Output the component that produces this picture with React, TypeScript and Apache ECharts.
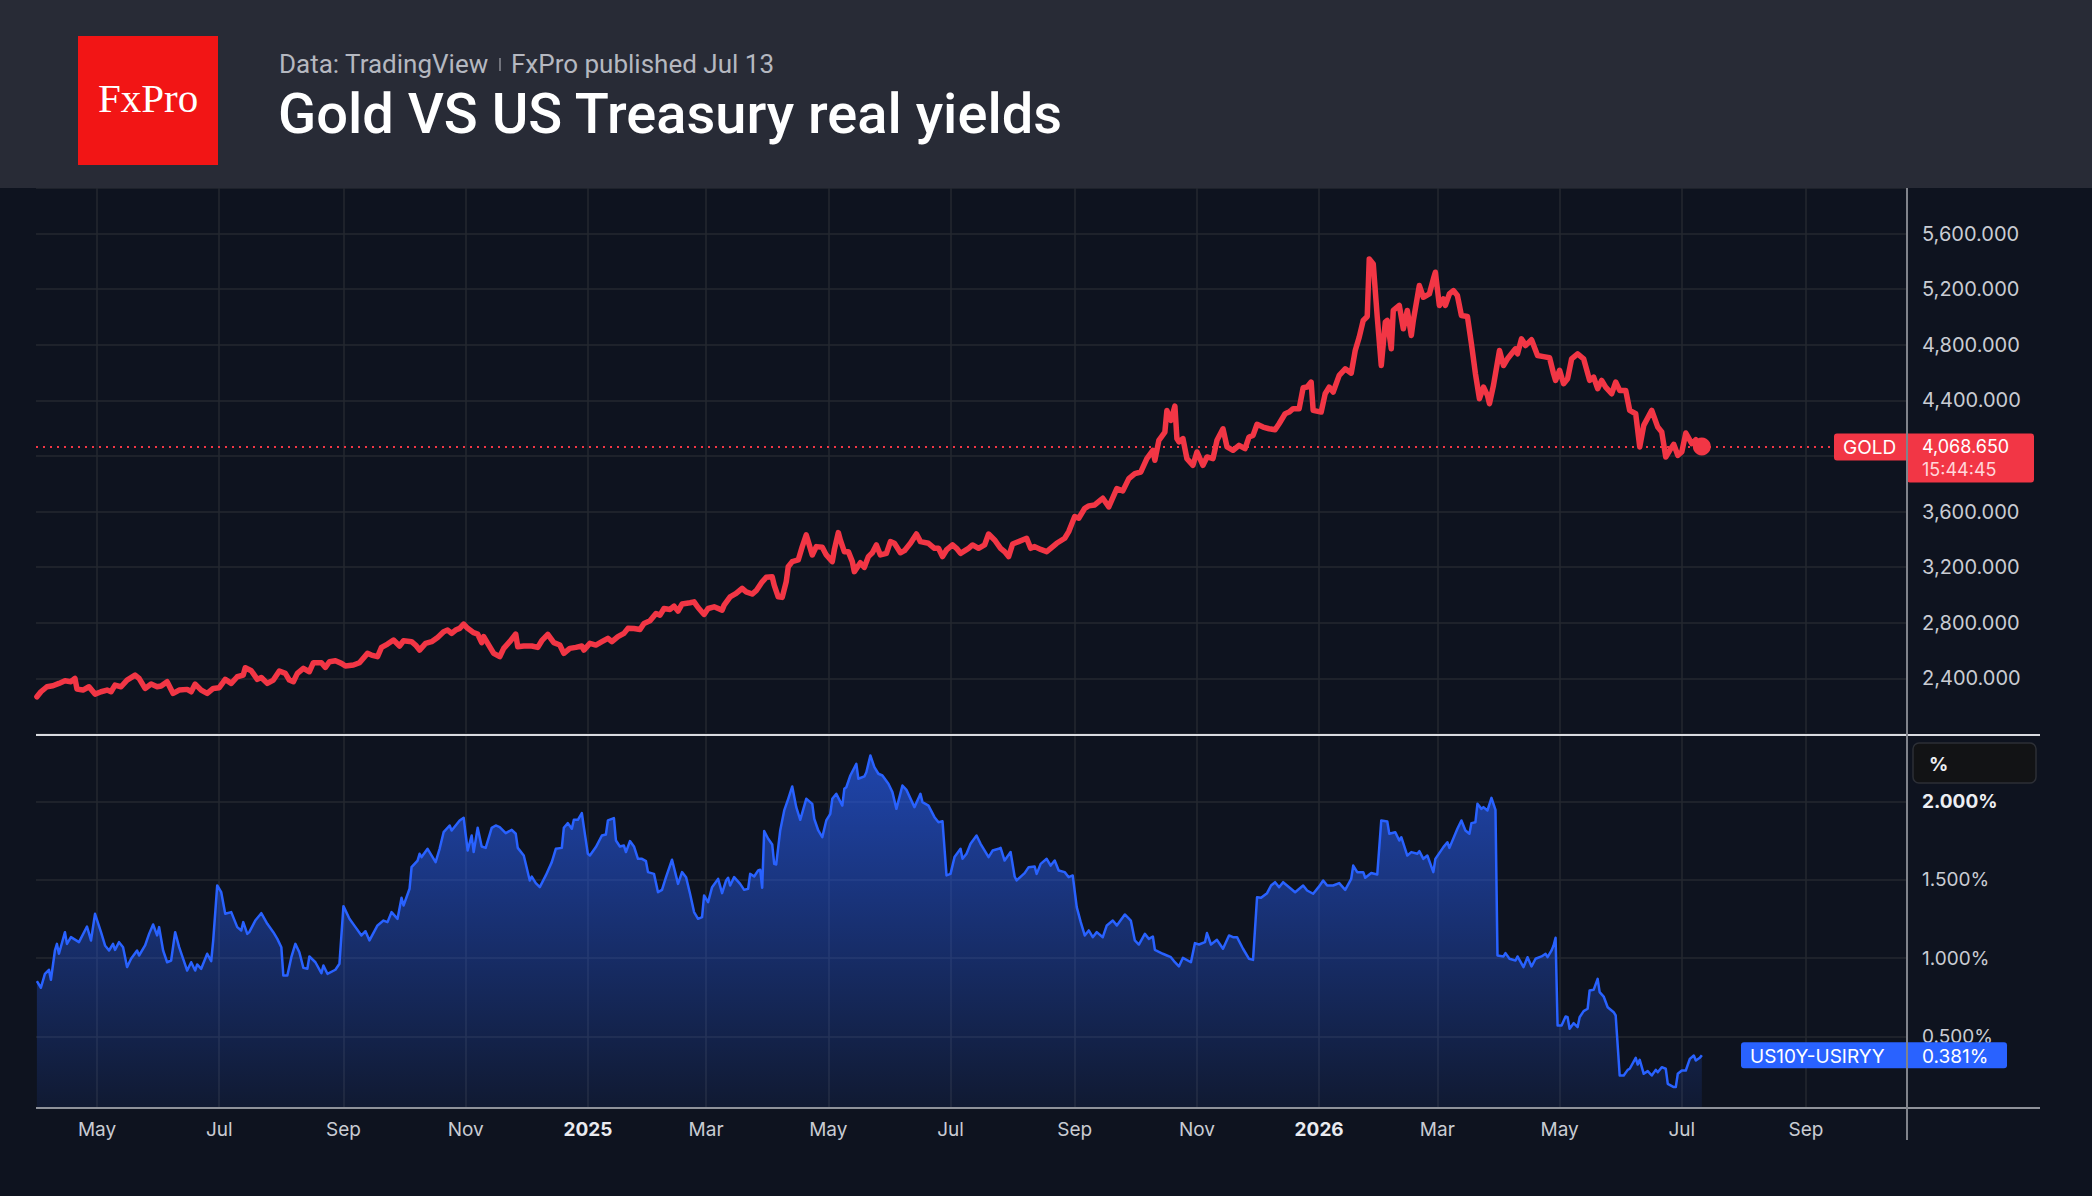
import React, { useEffect, useRef } from 'react';
import * as echarts from 'echarts';

// Daily closes, sampled; x = days since 2024-04-01
const START_DATE = Date.UTC(2024, 3, 1);
const DAY_MS = 86400000;

// Gold spot (USD / oz): [day, close]
const goldCloses: [number, number][] = [
  [0, 2268], [2, 2304], [5, 2340], [8, 2347], [11, 2364], [14, 2383], [17, 2376], [19, 2400], [20, 2323], [23, 2316],
  [26, 2340], [29, 2287], [32, 2304], [35, 2316], [37, 2304], [39, 2352], [42, 2340], [45, 2388], [49, 2424], [51, 2400],
  [54, 2328], [57, 2359], [60, 2340], [62, 2345], [65, 2376], [68, 2292], [71, 2316], [75, 2321], [77, 2304], [79, 2359],
  [82, 2316], [85, 2292], [88, 2328], [91, 2333], [94, 2393], [97, 2364], [100, 2412], [103, 2424], [104, 2477], [107, 2455],
  [110, 2393], [112, 2407], [115, 2364], [118, 2388], [121, 2453], [124, 2436], [126, 2388], [128, 2376], [130, 2436], [133, 2472],
  [136, 2448], [138, 2513], [142, 2513], [144, 2479], [146, 2520], [149, 2527], [152, 2508], [154, 2489], [158, 2496], [161, 2513],
  [165, 2580], [167, 2568], [170, 2556], [172, 2623], [175, 2647], [178, 2676], [181, 2633], [183, 2671], [187, 2664], [189, 2640],
  [191, 2604], [194, 2652], [197, 2664], [200, 2695], [203, 2736], [205, 2748], [207, 2724], [209, 2748], [211, 2760], [213, 2791],
  [215, 2760], [218, 2729], [220, 2719], [222, 2657], [223, 2700], [225, 2652], [228, 2580], [231, 2556], [233, 2616], [236, 2664],
  [239, 2719], [240, 2628], [243, 2633], [247, 2633], [250, 2623], [252, 2671], [255, 2717], [258, 2657], [261, 2640], [263, 2580],
  [266, 2616], [269, 2623], [272, 2633], [273, 2604], [276, 2652], [279, 2640], [282, 2664], [285, 2688], [287, 2664], [290, 2700],
  [293, 2724], [295, 2760], [298, 2759], [301, 2752], [303, 2795], [306, 2814], [309, 2867], [311, 2855], [313, 2903], [316, 2896],
  [318, 2920], [320, 2884], [322, 2935], [326, 2944], [328, 2951], [330, 2910], [333, 2860], [335, 2903], [338, 2915], [342, 2891],
  [343, 2927], [346, 2987], [349, 3011], [352, 3047], [354, 3023], [357, 3007], [359, 3031], [362, 3095], [364, 3127], [367, 3131],
  [368, 3071], [370, 2987], [372, 2983], [374, 3095], [375, 3203], [377, 3240], [380, 3252], [382, 3348], [384, 3432], [385, 3384],
  [387, 3288], [389, 3348], [392, 3343], [394, 3288], [397, 3240], [398, 3324], [400, 3449], [401, 3396], [403, 3312], [405, 3312],
  [407, 3240], [408, 3168], [411, 3232], [413, 3199], [415, 3276], [417, 3304], [419, 3360], [421, 3288], [424, 3300], [426, 3384],
  [428, 3372], [431, 3304], [433, 3319], [436, 3372], [439, 3439], [441, 3384], [445, 3372], [448, 3336], [450, 3336], [452, 3276],
  [454, 3324], [457, 3360], [459, 3336], [461, 3300], [465, 3336], [467, 3360], [470, 3336], [473, 3360], [475, 3439], [478, 3396],
  [481, 3336], [483, 3312], [485, 3276], [487, 3367], [490, 3384], [494, 3408], [496, 3336], [498, 3348], [501, 3328], [504, 3312],
  [506, 3336], [509, 3372], [513, 3408], [515, 3456], [518, 3564], [520, 3552], [523, 3624], [525, 3641], [528, 3648], [531, 3684],
  [532, 3696], [535, 3634], [539, 3765], [542, 3749], [545, 3837], [548, 3873], [551, 3885], [554, 3981], [557, 4041], [558, 3969],
  [560, 4113], [563, 4172], [564, 4328], [566, 4256], [568, 4359], [569, 4125], [570, 4101], [572, 4125], [574, 3981], [577, 3933],
  [579, 4029], [582, 3933], [584, 3993], [587, 3981], [589, 4113], [592, 4196], [594, 4065], [597, 4041], [600, 4077], [603, 4053],
  [605, 4137], [607, 4148], [609, 4228], [612, 4208], [615, 4196], [618, 4189], [620, 4232], [623, 4304], [625, 4316], [627, 4340],
  [630, 4340], [632, 4491], [634, 4496], [636, 4532], [637, 4328], [641, 4316], [643, 4448], [645, 4496], [647, 4460], [650, 4580],
  [653, 4627], [656, 4596], [658, 4759], [660, 4855], [662, 4975], [664, 5004], [665, 5418], [667, 5382], [669, 4999], [671, 4651],
  [673, 4963], [674, 4975], [676, 4771], [677, 5047], [680, 5083], [682, 4915], [684, 5047], [686, 4867], [687, 4975], [690, 5226],
  [692, 5142], [695, 5166], [697, 5274], [698, 5322], [700, 5083], [702, 5130], [703, 5083], [705, 5166], [707, 5190], [709, 5154],
  [711, 5011], [714, 5004], [716, 4807], [718, 4592], [720, 4412], [722, 4496], [724, 4436], [725, 4376], [727, 4508], [730, 4759],
  [732, 4651], [734, 4699], [738, 4771], [739, 4735], [741, 4843], [743, 4795], [746, 4836], [749, 4723], [752, 4715], [755, 4707],
  [757, 4592], [758, 4544], [760, 4616], [762, 4520], [764, 4556], [766, 4699], [769, 4735], [772, 4699], [775, 4544], [777, 4568],
  [779, 4484], [781, 4544], [783, 4496], [786, 4448], [788, 4532], [790, 4472], [793, 4472], [795, 4328], [798, 4304], [800, 4065],
  [802, 4220], [806, 4328], [809, 4208], [811, 4172], [813, 3993], [815, 4041], [817, 4084], [819, 4005], [821, 4029], [823, 4165],
  [826, 4089], [828, 4117], [831, 4068.65],
];

// US 10Y nominal yield minus US CPI YoY (%): [day, value]
const realYields: [number, number][] = [
  [0, 0.853], [2, 0.811], [4, 0.9], [6, 0.926], [7, 0.862], [9, 1.049], [10, 1.091], [11, 1.028], [14, 1.166], [15, 1.091],
  [17, 1.134], [21, 1.102], [25, 1.202], [27, 1.113], [29, 1.283], [32, 1.166], [34, 1.081], [36, 1.049], [38, 1.091], [39, 1.053],
  [41, 1.102], [43, 1.07], [45, 0.943], [47, 0.996], [50, 1.049], [51, 1.017], [54, 1.081], [56, 1.155], [58, 1.215], [60, 1.145],
  [61, 1.198], [63, 1.049], [65, 0.974], [67, 0.985], [69, 1.166], [71, 1.07], [75, 0.921], [77, 0.974], [79, 0.921], [80, 0.96],
  [82, 0.932], [85, 1.028], [87, 0.981], [88, 1.113], [90, 1.464], [92, 1.421], [94, 1.283], [97, 1.294], [100, 1.198], [102, 1.177],
  [103, 1.23], [105, 1.155], [106, 1.166], [109, 1.24], [112, 1.287], [115, 1.219], [118, 1.166], [120, 1.123], [122, 1.07], [123, 0.889],
  [125, 0.889], [127, 1.006], [129, 1.091], [131, 1.038], [133, 0.938], [135, 0.932], [136, 1.011], [139, 0.974], [142, 0.904], [143, 0.953],
  [145, 0.9], [149, 0.926], [151, 0.964], [153, 1.332], [156, 1.251], [159, 1.198], [162, 1.145], [164, 1.172], [166, 1.113], [170, 1.209],
  [173, 1.24], [175, 1.23], [177, 1.294], [180, 1.251], [182, 1.385], [183, 1.336], [186, 1.443], [187, 1.581], [190, 1.623], [191, 1.666],
  [192, 1.645], [195, 1.698], [199, 1.613], [201, 1.698], [203, 1.804], [206, 1.847], [207, 1.815], [211, 1.879], [213, 1.896], [215, 1.687],
  [217, 1.783], [218, 1.677], [220, 1.832], [222, 1.713], [224, 1.704], [227, 1.832], [229, 1.847], [231, 1.836], [234, 1.798], [237, 1.819],
  [239, 1.794], [240, 1.704], [243, 1.655], [246, 1.496], [247, 1.521], [249, 1.479], [251, 1.453], [254, 1.528], [257, 1.613], [259, 1.698],
  [262, 1.704], [263, 1.832], [265, 1.862], [267, 1.826], [268, 1.883], [270, 1.883], [272, 1.926], [273, 1.836], [275, 1.666], [276, 1.655],
  [279, 1.709], [282, 1.783], [284, 1.789], [285, 1.879], [288, 1.894], [289, 1.751], [291, 1.713], [293, 1.719], [294, 1.677], [296, 1.747],
  [298, 1.713], [300, 1.634], [302, 1.634], [304, 1.619], [305, 1.549], [308, 1.538], [310, 1.421], [312, 1.436], [314, 1.517], [317, 1.628],
  [320, 1.474], [322, 1.549], [324, 1.517], [326, 1.411], [328, 1.294], [330, 1.251], [332, 1.262], [333, 1.4], [335, 1.357], [337, 1.453],
  [340, 1.506], [342, 1.415], [344, 1.496], [345, 1.513], [346, 1.464], [348, 1.517], [351, 1.474], [353, 1.436], [355, 1.443], [356, 1.538],
  [358, 1.521], [360, 1.56], [361, 1.564], [362, 1.449], [363, 1.811], [365, 1.762], [367, 1.726], [368, 1.602], [369, 1.598], [371, 1.815],
  [373, 1.943], [375, 2.017], [377, 2.096], [379, 1.964], [381, 1.883], [384, 2.017], [387, 1.985], [388, 1.889], [390, 1.815], [392, 1.772],
  [394, 1.879], [396, 1.921], [397, 2.017], [399, 2.049], [402, 1.974], [403, 2.081], [404, 2.091], [406, 2.166], [409, 2.24], [410, 2.145],
  [413, 2.16], [414, 2.187], [416, 2.294], [418, 2.219], [420, 2.177], [422, 2.166], [425, 2.113], [427, 2.06], [429, 1.953], [432, 2.102],
  [434, 2.074], [438, 1.964], [441, 2.049], [442, 1.996], [445, 1.974], [448, 1.9], [450, 1.868], [452, 1.874], [454, 1.528], [456, 1.538],
  [458, 1.645], [461, 1.698], [462, 1.634], [464, 1.666], [466, 1.73], [469, 1.783], [471, 1.73], [475, 1.645], [477, 1.687], [480, 1.698],
  [481, 1.704], [483, 1.623], [486, 1.677], [488, 1.521], [489, 1.496], [493, 1.543], [495, 1.581], [498, 1.585], [499, 1.538], [501, 1.602],
  [504, 1.634], [506, 1.591], [508, 1.623], [510, 1.56], [513, 1.549], [515, 1.517], [517, 1.528], [519, 1.326], [521, 1.23], [523, 1.145],
  [525, 1.177], [527, 1.134], [529, 1.166], [532, 1.134], [534, 1.209], [537, 1.24], [539, 1.209], [543, 1.279], [546, 1.24], [548, 1.113],
  [550, 1.087], [553, 1.155], [555, 1.123], [557, 1.138], [558, 1.053], [562, 1.028], [564, 1.017], [566, 1.006], [568, 0.974], [570, 0.947],
  [572, 1.002], [576, 0.974], [578, 1.096], [580, 1.087], [583, 1.102], [584, 1.16], [586, 1.087], [589, 1.117], [592, 1.06], [595, 1.145],
  [597, 1.134], [599, 1.134], [602, 1.06], [605, 0.996], [607, 0.989], [609, 1.389], [611, 1.385], [614, 1.415], [616, 1.464], [618, 1.485],
  [620, 1.453], [622, 1.485], [625, 1.453], [628, 1.421], [632, 1.464], [634, 1.432], [637, 1.411], [640, 1.458], [642, 1.496], [644, 1.464],
  [647, 1.464], [650, 1.479], [653, 1.436], [656, 1.506], [657, 1.591], [659, 1.549], [662, 1.549], [663, 1.513], [666, 1.543], [669, 1.534],
  [671, 1.879], [674, 1.872], [675, 1.794], [678, 1.804], [680, 1.751], [681, 1.772], [684, 1.655], [686, 1.677], [689, 1.666], [690, 1.683],
  [692, 1.634], [694, 1.655], [697, 1.549], [698, 1.634], [702, 1.709], [704, 1.74], [705, 1.704], [709, 1.826], [711, 1.879], [713, 1.815],
  [715, 1.794], [716, 1.862], [718, 1.868], [719, 1.985], [721, 1.953], [722, 1.964], [724, 1.943], [726, 2.023], [728, 1.947], [729, 1.017],
  [732, 1.011], [733, 1.032], [735, 0.996], [738, 0.985], [739, 1.011], [742, 0.943], [744, 1.006], [746, 0.947], [748, 0.996], [751, 1.011],
  [753, 1.028], [754, 1.006], [756, 1.049], [757, 1.081], [758, 1.13], [759, 0.57], [761, 0.57], [763, 0.628], [764, 0.623], [765, 0.549],
  [767, 0.585], [769, 0.56], [770, 0.623], [772, 0.662], [774, 0.677], [775, 0.794], [777, 0.798], [779, 0.868], [780, 0.783], [782, 0.755],
  [784, 0.687], [787, 0.655], [788, 0.634], [790, 0.251], [792, 0.251], [794, 0.287], [795, 0.294], [798, 0.364], [799, 0.321], [800, 0.351],
  [802, 0.262], [804, 0.279], [806, 0.251], [808, 0.287], [809, 0.272], [811, 0.304], [813, 0.294], [814, 0.198], [817, 0.177], [818, 0.177],
  [819, 0.262], [821, 0.283], [823, 0.283], [825, 0.357], [827, 0.379], [828, 0.347], [830, 0.364], [831, 0.381],
];

// Time-axis labels / vertical grid (every second month)
const monthTicks = [
  '2024-05-01', '2024-07-01', '2024-09-01', '2024-11-01', '2025-01-01', '2025-03-01', '2025-05-01', '2025-07-01',
  '2025-09-01', '2025-11-01', '2026-01-01', '2026-03-01', '2026-05-01', '2026-07-01', '2026-09-01',
];
const MONTH_NAMES = ['Jan', 'Feb', 'Mar', 'Apr', 'May', 'Jun', 'Jul', 'Aug', 'Sep', 'Oct', 'Nov', 'Dec'];

// Price-scale ticks
const goldTickStep = 400;
const yieldTicks = [0.5, 1, 1.5, 2];

const GOLD_SYMBOL = 'GOLD';
const YIELD_SYMBOL = 'US10Y-USIRYY';
const BAR_COUNTDOWN = '15:44:45';

// Visible ranges (x in epoch milliseconds)
const X_MIN = START_DATE - 0.45 * DAY_MS;
const X_MAX = START_DATE + 933.4 * DAY_MS;
const GOLD_MIN = 2000;
const GOLD_MAX = 5928;
const YIELD_MIN = 0.0436;
const YIELD_MAX = 2.418;

// Layout
const W = 2092;
const H = 1196;
const HEADER_H = 188;
const PLOT_LEFT = 36;
const SCALE_X = 1907;
const RIGHT_EDGE = 2040;
const TOP_PANE = { top: 188, height: 546 };
const BOTTOM_PANE = { top: 736, height: 372 };

const BG = '#0e131f';
const GRID = '#252830';
const RED = '#f23645';
const BLUE = '#2962ff';
const LABEL = '#c9ccd3';
const FONT = 'Inter, Roboto, sans-serif';

const toTime = (d: number) => START_DATE + d * DAY_MS;
const tickTimes = monthTicks.map((s) => Date.parse(s + 'T00:00:00Z'));
const goldData = goldCloses.map(([d, v]) => [toTime(d), v]);
const yieldData = realYields.map(([d, v]) => [toTime(d), v]);
const lastGold = goldCloses[goldCloses.length - 1];
const lastYield = realYields[realYields.length - 1];

const fmtGold = (v: number) =>
  v.toLocaleString('en-US', { minimumFractionDigits: 3, maximumFractionDigits: 3 });
const fmtPct = (v: number) => v.toFixed(3) + '%';

// price-scale labels that sit under the last-price tag are not drawn
const underGoldTag = (v: number) => v > lastGold[1] - 345 && v < lastGold[1] + 180;

const gridMark = (extra: any[] = []) => ({
  silent: true,
  symbol: ['none', 'none'],
  z: 1,
  label: { show: false },
  emphasis: { disabled: true },
  lineStyle: { color: GRID, width: 1.5, type: 'solid' },
  data: [...tickTimes.map((t) => ({ xAxis: t })), ...extra],
});

function buildOption(): any {
  return {
    animation: false,
    backgroundColor: BG,
    textStyle: { fontFamily: FONT },
    grid: [
      { left: PLOT_LEFT, top: TOP_PANE.top, width: SCALE_X - PLOT_LEFT, height: TOP_PANE.height },
      { left: PLOT_LEFT, top: BOTTOM_PANE.top, width: SCALE_X - PLOT_LEFT, height: BOTTOM_PANE.height },
    ],
    xAxis: [
      { type: 'value', gridIndex: 0, min: X_MIN, max: X_MAX, show: false },
      {
        type: 'value',
        gridIndex: 1,
        min: X_MIN,
        max: X_MAX,
        axisLine: { show: false },
        axisTick: { show: false },
        splitLine: { show: false },
        axisLabel: {
          customValues: tickTimes,
          margin: 12,
          color: LABEL,
          fontSize: 19,
          fontFamily: FONT,
          formatter: (v: number) => {
            const d = new Date(v);
            return d.getUTCMonth() === 0 ? `{yr|${d.getUTCFullYear()}}` : MONTH_NAMES[d.getUTCMonth()];
          },
          rich: { yr: { fontWeight: 'bold', color: '#e9ebf0', fontSize: 19, fontFamily: FONT } },
        },
      },
    ],
    yAxis: [
      {
        type: 'value',
        gridIndex: 0,
        position: 'right',
        min: GOLD_MIN,
        max: GOLD_MAX,
        interval: goldTickStep,
        axisLine: { show: false },
        axisTick: { show: false },
        splitLine: { show: true, lineStyle: { color: GRID, width: 1.5 } },
        axisLabel: {
          showMinLabel: false,
          showMaxLabel: false,
          margin: 15,
          color: LABEL,
          fontSize: 20,
          fontFamily: FONT,
          formatter: (v: number) => (underGoldTag(v) ? '' : fmtGold(v)),
        },
      },
      {
        type: 'value',
        gridIndex: 1,
        position: 'right',
        min: YIELD_MIN,
        max: YIELD_MAX,
        axisLine: { show: false },
        axisTick: { show: false },
        splitLine: { show: false },
        axisLabel: {
          customValues: yieldTicks,
          margin: 15,
          color: LABEL,
          fontSize: 19,
          fontFamily: FONT,
          formatter: (v: number) => (v === 2 ? `{b|${fmtPct(v)}}` : fmtPct(v)),
          rich: { b: { fontWeight: 'bold', color: '#eceef2', fontSize: 19, fontFamily: FONT } },
        },
      },
    ],
    series: [
      {
        name: GOLD_SYMBOL,
        type: 'line',
        xAxisIndex: 0,
        yAxisIndex: 0,
        data: goldData,
        showSymbol: false,
        z: 3,
        lineStyle: { color: RED, width: 5.5, join: 'round', cap: 'round' },
        markLine: gridMark([
          {
            yAxis: lastGold[1],
            lineStyle: { color: RED, width: 2, type: [2, 5] },
          },
        ]),
        markPoint: {
          silent: true,
          symbol: 'circle',
          symbolSize: 18,
          itemStyle: { color: RED },
          label: { show: false },
          data: [{ coord: [toTime(lastGold[0]), lastGold[1]] }],
        },
      },
      {
        name: YIELD_SYMBOL,
        type: 'line',
        xAxisIndex: 1,
        yAxisIndex: 1,
        data: yieldData,
        showSymbol: false,
        z: 3,
        lineStyle: { color: BLUE, width: 2.5, join: 'round' },
        areaStyle: {
          origin: 'start',
          color: new echarts.graphic.LinearGradient(0, 0, 0, 1, [
            { offset: 0, color: 'rgba(41,98,255,0.9)' },
            { offset: 1, color: 'rgba(41,98,255,0.12)' },
          ]),
        },
        markLine: gridMark(yieldTicks.map((v) => ({ yAxis: v }))),
      },
    ],
  };
}

const txt = (text: string, x: number, y: number, font: string, fill: string, align = 'left', z = 110) => ({
  type: 'text',
  x,
  y,
  z,
  silent: true,
  style: { text, font, fill, align, verticalAlign: 'middle', textAlign: align, textVerticalAlign: 'middle' },
});

function buildGraphic(axisX: number, goldY: number, yieldY: number): any[] {
  return [
    // header band
    { type: 'rect', z: 100, silent: true, shape: { x: 0, y: 0, width: W, height: HEADER_H }, style: { fill: '#282b36' } },
    { type: 'rect', z: 101, silent: true, shape: { x: 78, y: 36, width: 140, height: 129 }, style: { fill: '#f21515' } },
    txt('FxPro', 148, 98, '41px "Liberation Serif", serif', '#ffffff', 'center'),
    txt('Data: TradingView', 279, 64, '400 26px Roboto', '#b5b8c0'),
    { type: 'line', z: 110, silent: true, shape: { x1: 500, y1: 58, x2: 500, y2: 71 }, style: { stroke: '#8a8d95', lineWidth: 1.5 } },
    txt('FxPro published Jul 13', 511, 64, '400 26px Roboto', '#b5b8c0'),
    txt('Gold VS US Treasury real yields', 278, 114, '500 56px Roboto', '#ffffff'),

    // pane separator and time-axis baseline
    { type: 'line', z: 90, silent: true, shape: { x1: PLOT_LEFT, y1: 735, x2: RIGHT_EDGE, y2: 735 }, style: { stroke: '#d9dbe0', lineWidth: 2 } },
    { type: 'line', z: 90, silent: true, shape: { x1: PLOT_LEFT, y1: 1108, x2: RIGHT_EDGE, y2: 1108 }, style: { stroke: '#8f929a', lineWidth: 2 } },

    // "%" scale badge
    { type: 'rect', z: 95, silent: true, shape: { x: 1913, y: 743, width: 123, height: 40, r: 6 }, style: { fill: '#121315', stroke: '#2c2f36', lineWidth: 1.5 } },
    txt('%', 1929, 764, '700 19px Inter', '#eceef2', 'left', 96),

    // last-value tags
    { type: 'rect', z: 120, silent: true, shape: { x: axisX - 73, y: goldY - 13, width: 73, height: 27, r: [3, 0, 0, 3] }, style: { fill: RED } },
    { type: 'rect', z: 120, silent: true, shape: { x: axisX, y: goldY - 13, width: 127, height: 49, r: [0, 3, 3, 3] }, style: { fill: RED } },
    txt(GOLD_SYMBOL, axisX - 64, goldY + 1, '400 19px Inter', '#ffffff', 'left', 121),
    txt(fmtGold(lastGold[1]), axisX + 15, goldY, '400 18px Inter', '#ffffff', 'left', 121),
    txt(BAR_COUNTDOWN, axisX + 15, goldY + 23, '400 18px Inter', '#ffd7da', 'left', 121),

    { type: 'rect', z: 120, silent: true, shape: { x: axisX - 166, y: yieldY - 13, width: 266, height: 26, r: 3 }, style: { fill: BLUE } },
    txt(YIELD_SYMBOL, axisX - 157, yieldY + 1, '400 19px Inter', '#ffffff', 'left', 121),
    txt(fmtPct(lastYield[1]), axisX + 15, yieldY + 1, '400 19px Inter', '#ffffff', 'left', 121),

    // price-scale border
    { type: 'line', z: 130, silent: true, shape: { x1: axisX, y1: HEADER_H, x2: axisX, y2: 1140 }, style: { stroke: '#80838b', lineWidth: 2 } },
  ];
}

export default function App() {
  const ref = useRef<HTMLDivElement>(null);

  useEffect(() => {
    if (!ref.current) return;
    const chart = echarts.init(ref.current, null, { renderer: 'svg' });
    chart.setOption(buildOption());
    const axisX = chart.convertToPixel({ xAxisIndex: 0 }, X_MAX) as number;
    const goldY = chart.convertToPixel({ yAxisIndex: 0 }, lastGold[1]) as number;
    const yieldY = chart.convertToPixel({ yAxisIndex: 1 }, lastYield[1]) as number;
    chart.setOption({ graphic: buildGraphic(axisX, goldY, yieldY) });
    return () => chart.dispose();
  }, []);

  return (
    <div
      ref={ref}
      style={{ position: 'absolute', left: 0, top: 0, width: W, height: H, background: BG }}
    />
  );
}
